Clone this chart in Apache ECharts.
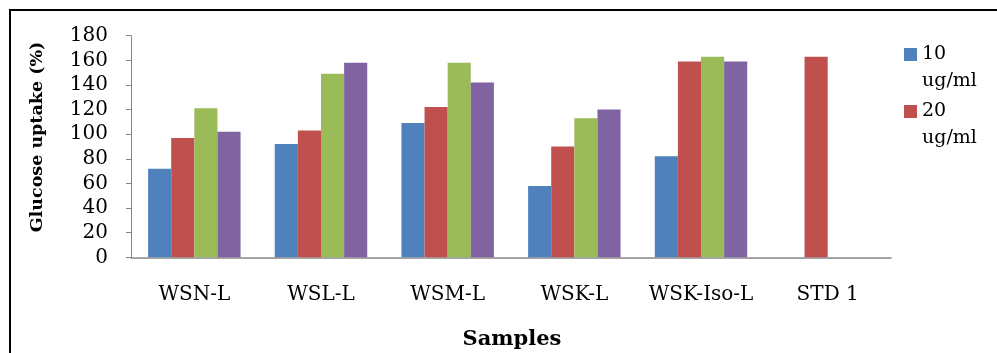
<!DOCTYPE html>
<html>
<head>
<meta charset="utf-8">
<script src="https://cdn.jsdelivr.net/npm/echarts@6/dist/echarts.min.js"></script>
<style>
html,body{margin:0;padding:0;background:#fff;}
#c{width:997px;height:353px;}
</style>
</head>
<body>
<div id="c"></div>
<script>
var categories = ['WSN-L', 'WSL-L', 'WSM-L', 'WSK-L', 'WSK-Iso-L', 'STD 1'];
var seriesNames = ['10\nug/ml', '20\nug/ml', '30\nug/ml', '40\nug/ml'];
var s10 = [72, 92, 109, 58, 82, null];
var s20 = [97, 103, 122, 90, 159, 163];
var s30 = [121, 149, 158, 113, 163, null];
var s40 = [102, 158, 142, 120, 159, null];
var yTicks = [0, 20, 40, 60, 80, 100, 120, 140, 160, 180];
var colors = ['#4F81BD', '#C0504D', '#9BBB59', '#8064A2'];

var FONT = 'DejaVu Serif';
var chart = echarts.init(document.getElementById('c'), null, {renderer: 'canvas'});
var values = [s10, s20, s30, s40];
var series = values.map(function (v, i) {
  return {
    name: seriesNames[i],
    type: 'bar',
    data: v,
    barGap: '0%',
    barCategoryGap: '27%',
    itemStyle: {color: colors[i]},
    emphasis: {disabled: true}
  };
});

chart.setOption({
  animation: false,
  backgroundColor: '#fff',
  grid: {left: 131, right: 106, top: 35.7, bottom: 95.7, containLabel: false},
  legend: {
    data: [seriesNames[0], seriesNames[1]],
    orient: 'vertical',
    left: 904,
    top: 41,
    padding: 0,
    itemGap: 3,
    itemWidth: 13,
    itemHeight: 40,
    icon: 'path://M0,0L10,0L10,10L0,10Z M0,30.8L0.001,30.8Z',
    itemStyle: {borderWidth: 0},
    textStyle: {fontFamily: FONT, fontSize: 19, lineHeight: 27, color: '#000'}
  },
  xAxis: {
    type: 'category',
    data: categories,
    axisLine: {lineStyle: {color: '#868686', width: 1.5}},
    axisTick: {show: false},
    axisLabel: {interval: 0, fontFamily: FONT, fontSize: 20, color: '#000', margin: 27}
  },
  yAxis: {
    type: 'value',
    min: yTicks[0],
    max: yTicks[yTicks.length - 1],
    interval: yTicks[1] - yTicks[0],
    splitLine: {show: false},
    axisLine: {show: true, lineStyle: {color: '#868686', width: 1}},
    axisTick: {show: true, length: 5, lineStyle: {color: '#868686'}},
    axisLabel: {fontFamily: FONT, fontSize: 20, color: '#000', margin: 23}
  },
  graphic: [
    {type: 'rect', shape: {x: 10, y: 10, width: 1100, height: 500}, style: {fill: 'none', stroke: '#000', lineWidth: 2}, silent: true},
    {type: 'text', x: 37, y: 137, rotation: Math.PI / 2, style: {text: 'Glucose uptake (%)', fontFamily: FONT, fontWeight: 'bold', fontSize: 17.5, fill: '#000', align: 'center', verticalAlign: 'middle'}},
    {type: 'text', x: 512, y: 340, style: {text: 'Samples', fontFamily: FONT, fontWeight: 'bold', fontSize: 21, fill: '#000', align: 'center', verticalAlign: 'middle'}}
  ],
  series: series
});
</script>
</body>
</html>
